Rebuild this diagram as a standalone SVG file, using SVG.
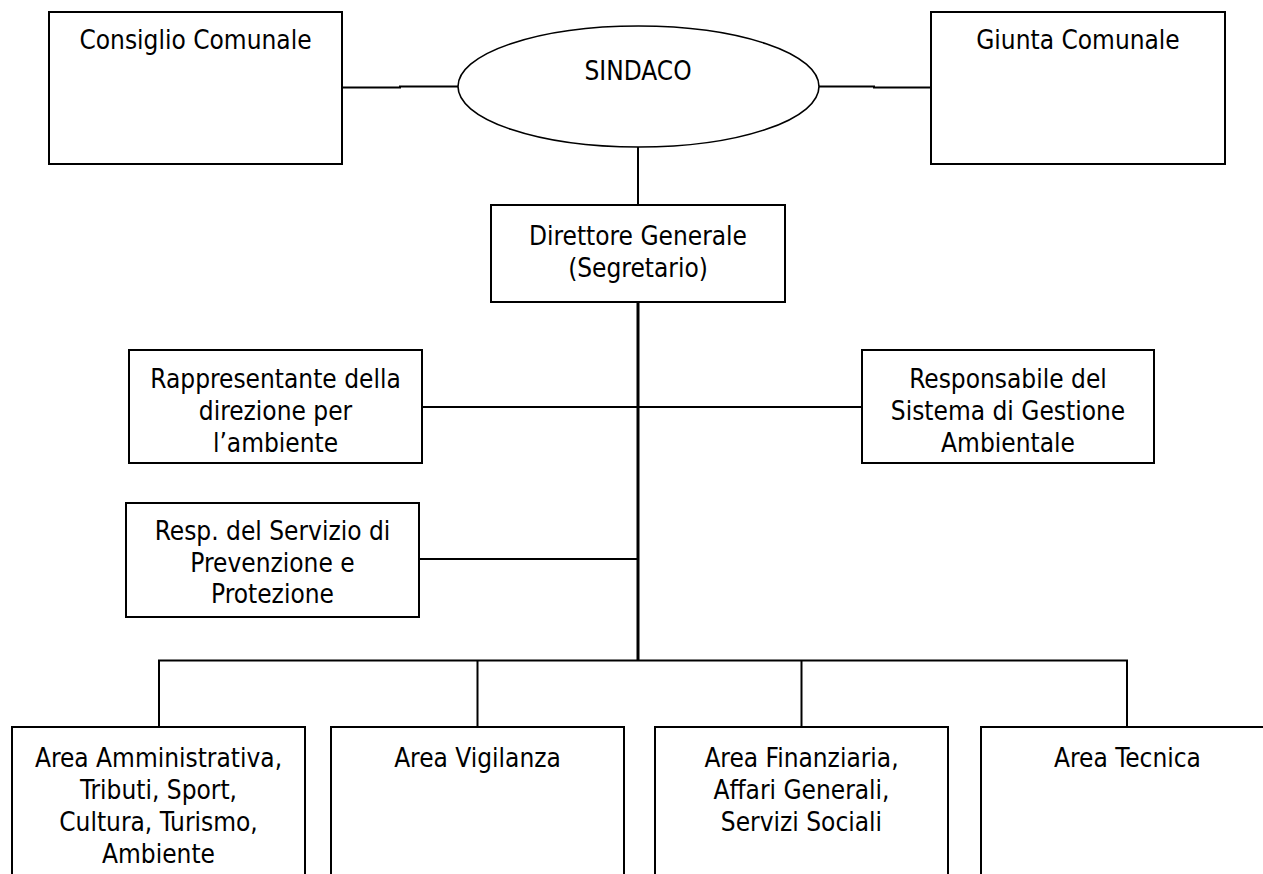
<svg xmlns="http://www.w3.org/2000/svg" width="1263" height="874" viewBox="0 0 1263 874">
<style>
.box{fill:#fff;stroke:#000;stroke-width:2}
.ell{fill:#fff;stroke:#000;stroke-width:1.6}
.t{font-family:"DejaVu Sans Condensed","DejaVu Sans",sans-serif;font-stretch:condensed;font-size:26px;fill:#000;text-anchor:middle}
.c{fill:none;stroke:#000;stroke-width:2}
.trunk{fill:none;stroke:#000;stroke-width:3}
</style>
<rect width="1263" height="874" fill="#fff"/>
<g id="connectors">
<path class="c" d="M342 87.5 H400 V86.5 H458"/>
<path class="c" d="M819 86.5 H874 V87.5 H931"/>
<path class="c" d="M638 147 V205"/>
<path class="trunk" d="M638 302 V661"/>
<path class="c" d="M422 407 H862"/>
<path class="c" d="M419 559 H638"/>
<path class="c" d="M159 727 V660.5 H1127 V727"/>
<path class="c" d="M477.5 660.5 V727"/>
<path class="c" d="M801.5 660.5 V727"/>
</g>
<g id="consiglio">
<rect class="box" x="49" y="12" width="293" height="152"/>
<text class="t" x="195.5" y="49">Consiglio Comunale</text>
</g>
<g id="giunta">
<rect class="box" x="931" y="12" width="294" height="152"/>
<text class="t" x="1078" y="49">Giunta Comunale</text>
</g>
<g id="sindaco">
<ellipse class="ell" cx="638.5" cy="86.5" rx="180.5" ry="60.5"/>
<text class="t" x="638" y="80">SINDACO</text>
</g>
<g id="direttore">
<rect class="box" x="491" y="205" width="294" height="97"/>
<text class="t" x="638" y="245">Direttore Generale</text>
<text class="t" x="638" y="277">(Segretario)</text>
</g>
<g id="rappresentante">
<rect class="box" x="129" y="350" width="293" height="113"/>
<text class="t" x="275.5" y="388">Rappresentante della</text>
<text class="t" x="275.5" y="420">direzione per</text>
<text class="t" x="275.5" y="452">l’ambiente</text>
</g>
<g id="responsabile">
<rect class="box" x="862" y="350" width="292" height="113"/>
<text class="t" x="1008" y="388">Responsabile del</text>
<text class="t" x="1008" y="420">Sistema di Gestione</text>
<text class="t" x="1008" y="452">Ambientale</text>
</g>
<g id="rspp">
<rect class="box" x="126" y="503" width="293" height="114"/>
<text class="t" x="272.5" y="540">Resp. del Servizio di</text>
<text class="t" x="272.5" y="572">Prevenzione e</text>
<text class="t" x="272.5" y="603">Protezione</text>
</g>
<g id="area-amministrativa">
<rect class="box" x="12" y="727" width="293" height="180"/>
<text class="t" x="158.5" y="767">Area Amministrativa,</text>
<text class="t" x="158.5" y="799">Tributi, Sport,</text>
<text class="t" x="158.5" y="831">Cultura, Turismo,</text>
<text class="t" x="158.5" y="863">Ambiente</text>
</g>
<g id="area-vigilanza">
<rect class="box" x="331" y="727" width="293" height="180"/>
<text class="t" x="477.5" y="767">Area Vigilanza</text>
</g>
<g id="area-finanziaria">
<rect class="box" x="655" y="727" width="293" height="180"/>
<text class="t" x="801.5" y="767">Area Finanziaria,</text>
<text class="t" x="801.5" y="799">Affari Generali,</text>
<text class="t" x="801.5" y="831">Servizi Sociali</text>
</g>
<g id="area-tecnica">
<rect class="box" x="981" y="727" width="293" height="180"/>
<text class="t" x="1127.5" y="767">Area Tecnica</text>
</g>
</svg>
